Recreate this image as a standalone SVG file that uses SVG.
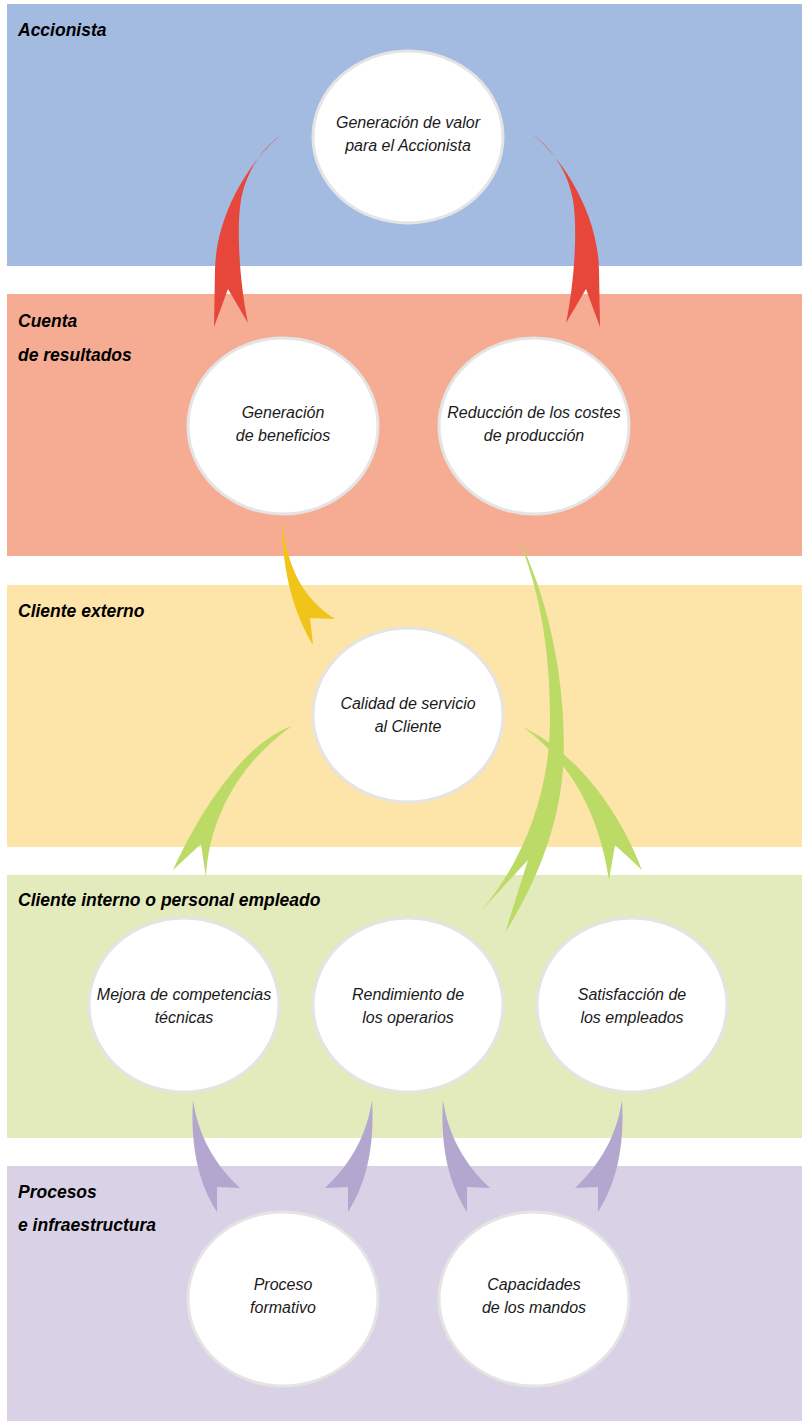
<svg xmlns="http://www.w3.org/2000/svg" xmlns:xlink="http://www.w3.org/1999/xlink" width="802" height="1421" viewBox="0 0 802 1421">
<style>
.band-label{font-family:"Liberation Sans",Arial,sans-serif;font-size:17.5px;font-weight:bold;font-style:italic;fill:#000}
.node ellipse{fill:#fff;stroke:#e4e4e4;stroke-width:3}
.node text{font-family:"Liberation Sans",Arial,sans-serif;font-size:16px;font-style:italic;fill:#1a1a1a;text-anchor:middle}
.red{fill:#e6473a}
.yellow{fill:#f0c419}
.green{fill:#bcdb66}
.purple{fill:#b3a6cf}
</style>
<defs>
<path id="redL" d="M281,135 C255,155 216,210 215,270 L214,327 L228,289 L248,323 C240,285 236,230 241,200 C246,172 262,148 281,135 Z"/>
<path id="purpL" d="M193,1100 C190,1150 200,1185 217,1212 L217,1187 L240,1188 C215,1165 198,1135 193,1100 Z"/>
</defs>
<g id="bands">
<rect x="7" y="4" width="795" height="262" fill="#a3bbe0"/>
<rect x="7" y="294" width="795" height="262" fill="#f5ac93"/>
<rect x="7" y="585" width="795" height="262" fill="#fde4a8"/>
<rect x="7" y="875" width="795" height="263" fill="#e3ebbd"/>
<rect x="7" y="1166" width="795" height="255" fill="#d9d2e6"/>
<text class="band-label" x="18" y="36">Accionista</text>
<text class="band-label" x="18" y="327">Cuenta</text>
<text class="band-label" x="18" y="361">de resultados</text>
<text class="band-label" x="18" y="617">Cliente externo</text>
<text class="band-label" x="18" y="906">Cliente interno o personal empleado</text>
<text class="band-label" x="18" y="1198">Procesos</text>
<text class="band-label" x="18" y="1231">e infraestructura</text>
</g>
<g id="connectors">
<use xlink:href="#redL" href="#redL" class="red"/>
<use xlink:href="#redL" href="#redL" class="red" transform="translate(814,0) scale(-1,1)"/>
<path class="yellow" d="M282,520 C282,575 295,615 313,645 L310,618 L335,619 C305,600 287,570 282,520 Z"/>
<path class="green" d="M292,726 C255,738 210,790 173,870 L201,844 L206,878 C208,830 230,770 292,726 Z"/>
<path class="green" d="M517,535 C550,600 568,690 563,770 C558,830 535,885 505,933 L528,860 L480,912 C525,860 550,790 550,720 C550,650 540,590 517,535 Z"/>
<path class="green" d="M523,727 C570,750 615,800 642,870 L615,845 L609,880 C600,820 575,765 523,727 Z"/>
<use xlink:href="#purpL" href="#purpL" class="purple"/>
<use xlink:href="#purpL" href="#purpL" class="purple" transform="translate(565,0) scale(-1,1)"/>
<use xlink:href="#purpL" href="#purpL" class="purple" transform="translate(250,0)"/>
<use xlink:href="#purpL" href="#purpL" class="purple" transform="translate(815,0) scale(-1,1)"/>
</g>
<g id="n-valor" class="node"><ellipse cx="408" cy="137" rx="95" ry="86"/><text x="408" y="128">Generación de valor</text><text x="408" y="151">para el Accionista</text></g>
<g id="n-beneficios" class="node"><ellipse cx="283" cy="426" rx="95" ry="88"/><text x="283" y="418">Generación</text><text x="283" y="441">de beneficios</text></g>
<g id="n-costes" class="node"><ellipse cx="534" cy="426" rx="95" ry="88"/><text x="534" y="418">Reducción de los costes</text><text x="534" y="441">de producción</text></g>
<g id="n-calidad" class="node"><ellipse cx="408" cy="715" rx="95" ry="87"/><text x="408" y="709">Calidad de servicio</text><text x="408" y="732">al Cliente</text></g>
<g id="n-mejora" class="node"><ellipse cx="184" cy="1005" rx="95" ry="87"/><text x="184" y="1000">Mejora de competencias</text><text x="184" y="1023">técnicas</text></g>
<g id="n-rendimiento" class="node"><ellipse cx="408" cy="1005" rx="95" ry="87"/><text x="408" y="1000">Rendimiento de</text><text x="408" y="1023">los operarios</text></g>
<g id="n-satisfaccion" class="node"><ellipse cx="632" cy="1005" rx="95" ry="87"/><text x="632" y="1000">Satisfacción de</text><text x="632" y="1023">los empleados</text></g>
<g id="n-proceso" class="node"><ellipse cx="283" cy="1299" rx="95" ry="87"/><text x="283" y="1290">Proceso</text><text x="283" y="1313">formativo</text></g>
<g id="n-capacidades" class="node"><ellipse cx="534" cy="1299" rx="95" ry="87"/><text x="534" y="1290">Capacidades</text><text x="534" y="1313">de los mandos</text></g>
</svg>
